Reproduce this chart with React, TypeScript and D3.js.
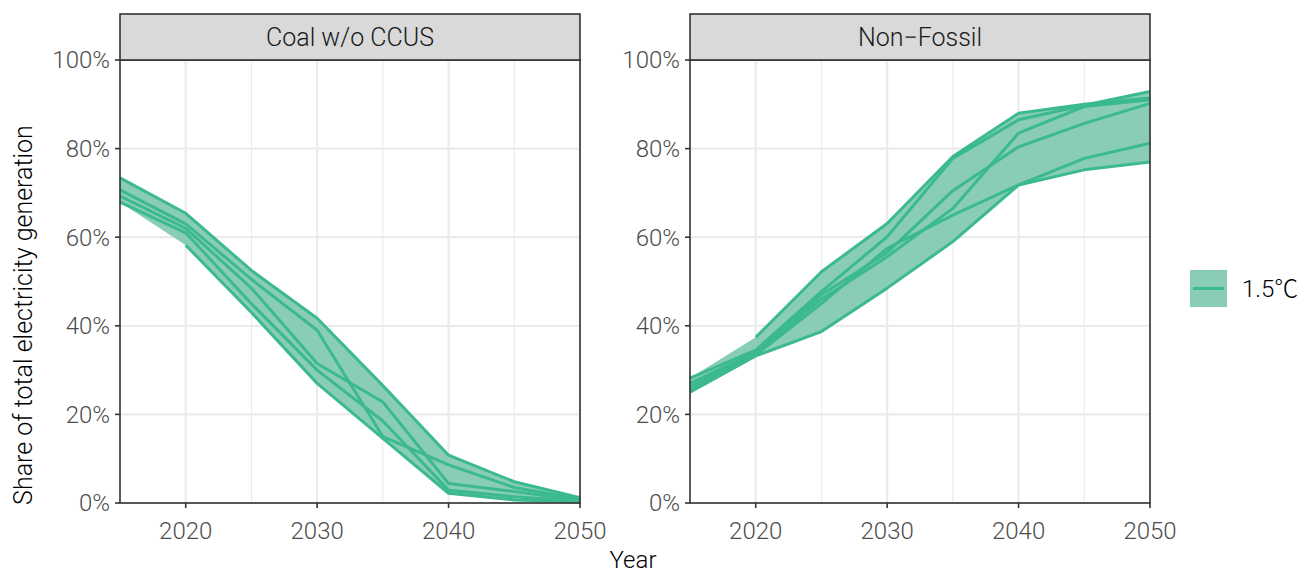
import * as d3 from "d3";

// scenario pathways, share of total electricity generation (%)
const years = [2015, 2020, 2025, 2030, 2035, 2040, 2045, 2050];
const panelTitles = ["Coal w/o CCUS", "Non\u2212Fossil"];
const coalSeries: (number | null)[][] = [
  [73.4, 65.4, 52.5, 41.7, 26.5, 10.8, 4.8, 1.2],
  [70.7, 63.0, 50.5, 39.0, 15.0, 8.6, 3.5, 0.8],
  [69.3, 62.0, 48.5, 31.5, 22.8, 4.4, 2.6, 0.6],
  [67.9, 61.0, 45.0, 30.0, 18.5, 2.9, 1.4, 0.4],
  [null, 58.2, 43.0, 27.0, 14.6, 2.2, 0.7, 0.2],
];
const nonFossilSeries: (number | null)[][] = [
  [null, 37.4, 52.2, 63.1, 78.2, 88.0, 90.0, 91.4],
  [28.2, 34.5, 47.7, 60.1, 77.8, 86.5, 89.8, 92.9],
  [27.0, 34.0, 47.0, 56.5, 70.5, 80.4, 85.7, 90.2],
  [26.2, 33.6, 46.0, 55.6, 66.5, 83.5, 89.5, 91.0],
  [25.5, 33.4, 45.0, 57.5, 65.0, 71.8, 77.8, 81.2],
  [25.0, 33.2, 38.7, 48.5, 59.0, 71.8, 75.2, 77.0],
];
const yTicks = [0, 20, 40, 60, 80, 100];
const xTicks = [2020, 2030, 2040, 2050];
const xMinor = [2025, 2035, 2045];
const legendLabel = "1.5\u2103";

const W = 1305;
const H = 573;
const top = 60;
const bottom = 503;
const panelX = [120, 690];
const panelW = 460;
const lineColor = "#3bb98f";
const fillColor = "#89cdb8";
const font = "Roboto, sans-serif";

function Panel({ x0, title, series }: { x0: number; title: string; series: (number | null)[][] }) {
  const x = d3.scaleLinear().domain([2015, 2050]).range([x0, x0 + panelW]);
  const y = d3.scaleLinear().domain([0, 100]).range([bottom, top]);

  const band = years.map((yr, i) => {
    const vals = series.map((s) => s[i]).filter((v): v is number => v != null);
    return { yr, lo: d3.min(vals)!, hi: d3.max(vals)! };
  });
  const area = d3
    .area<{ yr: number; lo: number; hi: number }>()
    .x((d) => x(d.yr))
    .y0((d) => y(d.lo))
    .y1((d) => y(d.hi));
  const line = d3
    .line<number | null>()
    .defined((d) => d != null)
    .x((_, i) => x(years[i]))
    .y((d) => y(d as number));

  return (
    <g>
      {xMinor.map((t) => (
        <line key={"m" + t} x1={x(t)} x2={x(t)} y1={top} y2={bottom} stroke="#ebebeb" strokeWidth={1.1} />
      ))}
      {yTicks.map((t) => (
        <line key={"h" + t} x1={x0} x2={x0 + panelW} y1={y(t)} y2={y(t)} stroke="#ebebeb" strokeWidth={2.2} />
      ))}
      {xTicks.map((t) => (
        <line key={"v" + t} x1={x(t)} x2={x(t)} y1={top} y2={bottom} stroke="#ebebeb" strokeWidth={2.2} />
      ))}
      <path d={area(band)!} fill={fillColor} />
      {series.map((s, i) => (
        <path key={i} d={line(s)!} fill="none" stroke={lineColor} strokeWidth={3} strokeLinejoin="round" />
      ))}
      <rect x={x0} y={top} width={panelW} height={bottom - top} fill="none" stroke="#333333" strokeWidth={1.6} />
      <rect x={x0} y={14} width={panelW} height={top - 14} fill="#d9d9d9" stroke="#333333" strokeWidth={1.6} />
      <text x={x0 + panelW / 2} y={46} textAnchor="middle" fontSize={25} fill="#1a1a1a" fontFamily={font} fontWeight={300}>
        {title}
      </text>
      {yTicks.map((t) => (
        <g key={"yt" + t}>
          <line x1={x0 - 5} x2={x0} y1={y(t)} y2={y(t)} stroke="#333333" strokeWidth={1.6} />
          <text x={x0 - 10} y={y(t)} dy="0.35em" textAnchor="end" fontSize={24} fill="#4d4d4d" fontFamily={font} fontWeight={300}>
            {t}%
          </text>
        </g>
      ))}
      {xTicks.map((t) => (
        <g key={"xt" + t}>
          <line x1={x(t)} x2={x(t)} y1={bottom} y2={bottom + 5} stroke="#333333" strokeWidth={1.6} />
          <text x={x(t)} y={539} textAnchor="middle" fontSize={24} fill="#4d4d4d" fontFamily={font} fontWeight={300}>
            {t}
          </text>
        </g>
      ))}
    </g>
  );
}

export default function App() {
  return (
    <svg width={W} height={H} style={{ position: "absolute", left: 0, top: 0, background: "#fff" }}>
      <rect width={W} height={H} fill="#fff" />
      <Panel x0={panelX[0]} title={panelTitles[0]} series={coalSeries} />
      <Panel x0={panelX[1]} title={panelTitles[1]} series={nonFossilSeries} />
      <text
        transform={`translate(32,315) rotate(-90)`}
        textAnchor="middle"
        fontSize={25}
        fill="#000"
        fontFamily={font}
        fontWeight={300}
      >
        Share of total electricity generation
      </text>
      <text x={633} y={568} textAnchor="middle" fontSize={24} fill="#000" fontFamily={font} fontWeight={300}>
        Year
      </text>
      <rect x={1190} y={270} width={37} height={37} fill={fillColor} />
      <line x1={1193} x2={1224} y1={288.5} y2={288.5} stroke={lineColor} strokeWidth={3} />
      <text x={1242} y={288.5} dy="0.35em" fontSize={24} fill="#000" fontFamily="Roboto, 'Noto Sans CJK SC', sans-serif" fontWeight={300}>
        {legendLabel}
      </text>
    </svg>
  );
}
